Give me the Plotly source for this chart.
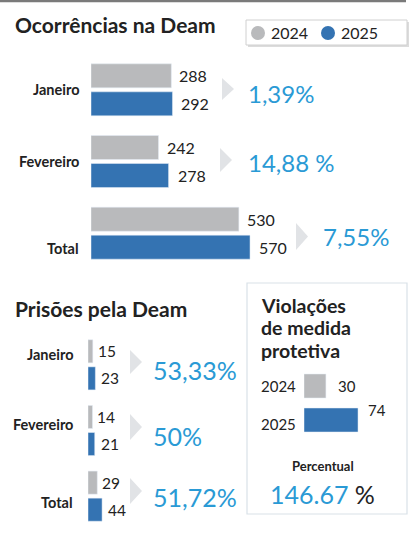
import plotly.graph_objects as go

# ---------------- data ----------------
months = ["Janeiro", "Fevereiro", "Total"]
ocorr_2024 = [288, 242, 530]
ocorr_2025 = [292, 278, 570]
ocorr_pct = ["1,39%", "14,88 %", "7,55%"]

prisoes_2024 = [15, 14, 29]
prisoes_2025 = [23, 21, 44]
prisoes_pct = ["53,33%", "50%", "51,72%"]

viol_years = ["2024", "2025"]
viol_values = [30, 74]
viol_pct = "146.67"

# ---------------- style ----------------
W, H = 420, 533
GRAY = "#b9babc"
BLUE = "#3473b2"
PCT_BLUE = "#2a9ad5"
TXT = "#222222"
CHEV = "#e1e3e6"
FONT = "Lato"


def px(x):
    return x / W


def py(y):
    return 1 - y / H


fig = go.Figure()

# ---- top chart: Ocorrências ----
top_slot = 71.7
top_bar = 24
fig.add_trace(go.Bar(y=months, x=ocorr_2024, orientation="h", marker_color=GRAY,
                     width=top_bar / top_slot, offset=-(top_bar + 2) / top_slot,
                     xaxis="x", yaxis="y", hoverinfo="skip", showlegend=False))
fig.add_trace(go.Bar(y=months, x=ocorr_2025, orientation="h", marker_color=BLUE,
                     width=top_bar / top_slot, offset=2 / top_slot,
                     xaxis="x", yaxis="y", hoverinfo="skip", showlegend=False))

# ---- bottom-left: Prisões ----
bl_slot = 65.5
bl_bar = 23
fig.add_trace(go.Bar(y=months, x=prisoes_2024, orientation="h", marker_color=GRAY,
                     width=bl_bar / bl_slot, offset=-(bl_bar + 2) / bl_slot,
                     xaxis="x2", yaxis="y2", hoverinfo="skip", showlegend=False))
fig.add_trace(go.Bar(y=months, x=prisoes_2025, orientation="h", marker_color=BLUE,
                     width=bl_bar / bl_slot, offset=2 / bl_slot,
                     xaxis="x2", yaxis="y2", hoverinfo="skip", showlegend=False))

# ---- right box: Violações (positions = index of each year) ----
r_slot = 34
r_bar = 24
viol_pos = list(range(len(viol_years)))
fig.add_trace(go.Bar(y=viol_pos, x=viol_values, orientation="h",
                     marker_color=[GRAY, BLUE],
                     width=r_bar / r_slot, offset=-r_bar / 2 / r_slot,
                     xaxis="x3", yaxis="y3", hoverinfo="skip", showlegend=False))

top_scale = 0.279
bl_scale = 0.32
r_scale = 0.73

hidden = dict(showgrid=False, zeroline=False, showticklabels=False, showline=False, ticks="")
fig.update_layout(
    width=W, height=H,
    margin=dict(l=0, r=0, t=0, b=0),
    paper_bgcolor="white", plot_bgcolor="rgba(0,0,0,0)",
    barmode="overlay",
    font=dict(family=FONT, color=TXT),
    xaxis=dict(domain=[px(91), px(410)], range=[0, (410 - 91) / top_scale], fixedrange=True, **hidden),
    yaxis=dict(type="category", domain=[py(269), py(54)], categoryorder="array", categoryarray=months,
               autorange="reversed", fixedrange=True, **hidden),
    xaxis2=dict(domain=[px(88), px(140)], range=[0, (140 - 88) / bl_scale], fixedrange=True, **hidden),
    yaxis2=dict(type="category", domain=[py(529), py(332)], categoryorder="array", categoryarray=months,
                autorange="reversed", fixedrange=True, **hidden),
    xaxis3=dict(anchor="y3", domain=[px(304), px(400)], range=[0, (400 - 304) / r_scale],
                fixedrange=True, **hidden),
    yaxis3=dict(anchor="x3", type="linear", domain=[py(437), py(369)],
                range=[len(viol_years) - 0.5, -0.5], fixedrange=True, **hidden),
)

ann = []
shapes = []

# top line
shapes.append(dict(type="line", xref="paper", yref="paper", x0=0, x1=px(406), y0=py(1), y1=py(1),
                   line=dict(color="#7a7a7a", width=2.5)))

# titles
ann.append(dict(text="<b>Ocorrências na Deam</b>", x=px(13), y=py(25), xref="paper", yref="paper",
                xanchor="left", yanchor="middle", showarrow=False, font=dict(size=21, color=TXT)))
ann.append(dict(text="<b>Prisões pela Deam</b>", x=px(13), y=py(308), xref="paper", yref="paper",
                xanchor="left", yanchor="middle", showarrow=False, font=dict(size=21, color=TXT)))

# legend box
shapes.append(dict(type="rect", xref="paper", yref="paper", x0=px(248), x1=px(409), y0=py(22), y1=py(47),
                   line=dict(width=0), fillcolor="#dcdcdc"))
shapes.append(dict(type="rect", xref="paper", yref="paper", x0=px(246), x1=px(407), y0=py(20), y1=py(45),
                   line=dict(color="#d0d0d0", width=1), fillcolor="white"))
for cx, col, lab in [(258, GRAY, "2024"), (328, BLUE, "2025")]:
    shapes.append(dict(type="circle", xref="paper", yref="paper", x0=px(cx - 7), x1=px(cx + 7),
                       y0=py(33 - 7), y1=py(33 + 7), line=dict(width=0), fillcolor=col))
    ann.append(dict(text=lab, x=px(cx + 11), y=py(33), xref="paper", yref="paper", xanchor="left",
                    yanchor="middle", showarrow=False, font=dict(size=16, color=TXT)))

# top chart labels
top_label_shift = [0, 0, -15]
for m, s in zip(months, top_label_shift):
    ann.append(dict(text="<b>" + m + "</b>", x=px(81), xref="paper", y=m, yref="y", yshift=s,
                    xanchor="right", yanchor="middle", showarrow=False, font=dict(size=14.5, color=TXT)))
for m, a, b in zip(months, ocorr_2024, ocorr_2025):
    ann.append(dict(text=str(a), x=a, y=m, xref="x", yref="y", xshift=6, yshift=(top_bar / 2 + 2),
                    xanchor="left", yanchor="middle", showarrow=False, font=dict(size=16, color=TXT)))
    ann.append(dict(text=str(b), x=b, y=m, xref="x", yref="y", xshift=7, yshift=-(top_bar / 2 + 2),
                    xanchor="left", yanchor="middle", showarrow=False, font=dict(size=16, color=TXT)))

# top chevrons and percentages
top_chev = [(222, 78, 100), (220, 148, 172), (296, 223, 250)]
top_pct_pos = [(246, 93), (246, 163), (321, 236)]
for (cx, y0, y1), (tx, ty), p in zip(top_chev, top_pct_pos, ocorr_pct):
    shapes.append(dict(type="path", xref="paper", yref="paper",
                       path=f"M {px(cx)},{py(y0)} L {px(cx + 12)},{py((y0 + y1) / 2)} L {px(cx)},{py(y1)} Z",
                       line=dict(width=0), fillcolor=CHEV))
    ann.append(dict(text=p, x=px(tx), y=py(ty), xref="paper", yref="paper", xanchor="left",
                    yanchor="middle", showarrow=False, font=dict(size=24, color=PCT_BLUE)))

# bottom-left labels
bl_label_shift = [10, 6, -6]
for m, s in zip(months, bl_label_shift):
    ann.append(dict(text="<b>" + m + "</b>", x=px(75), xref="paper", y=m, yref="y2", yshift=s,
                    xanchor="right", yanchor="middle", showarrow=False, font=dict(size=14.5, color=TXT)))
for m, a, b in zip(months, prisoes_2024, prisoes_2025):
    ann.append(dict(text=str(a), x=a, y=m, xref="x2", yref="y2", xshift=3, yshift=(bl_bar / 2 + 2),
                    xanchor="left", yanchor="middle", showarrow=False, font=dict(size=15.5, color=TXT)))
    ann.append(dict(text=str(b), x=b, y=m, xref="x2", yref="y2", xshift=4, yshift=-(bl_bar / 2 + 2),
                    xanchor="left", yanchor="middle", showarrow=False, font=dict(size=15.5, color=TXT)))

bl_chev = [(130, 350, 374), (130, 414, 440), (130, 478, 504)]
bl_pct_y = [370, 436, 497]
for (cx, y0, y1), ty, p in zip(bl_chev, bl_pct_y, prisoes_pct):
    shapes.append(dict(type="path", xref="paper", yref="paper",
                       path=f"M {px(cx)},{py(y0)} L {px(cx + 12)},{py((y0 + y1) / 2)} L {px(cx)},{py(y1)} Z",
                       line=dict(width=0), fillcolor=CHEV))
    ann.append(dict(text=p, x=px(151), y=py(ty), xref="paper", yref="paper", xanchor="left",
                    yanchor="middle", showarrow=False, font=dict(size=25, color=PCT_BLUE)))

# right box
shapes.append(dict(type="rect", xref="paper", yref="paper", x0=px(247), x1=px(407), y0=py(283), y1=py(514),
                   line=dict(color="#d9e1e8", width=1.2), fillcolor="rgba(0,0,0,0)"))
for line_txt, ly in zip(["Violações", "de medida", "protetiva"], [305, 327.5, 350]):
    ann.append(dict(text="<b>" + line_txt + "</b>", x=px(259), y=py(ly), xref="paper",
                    yref="paper", xanchor="left", yanchor="middle", showarrow=False,
                    font=dict(size=19.5, color=TXT)))
yr_shift = [0, -4]
for pos, yv, s in zip(viol_pos, viol_years, yr_shift):
    ann.append(dict(text=yv, x=px(298), xref="paper", y=pos, yref="y3", yshift=s, xanchor="right",
                    yanchor="middle", showarrow=False, font=dict(size=15, color=TXT)))
val_shift = [(10, 0), (8, 10)]
for pos, v, (xs, ys) in zip(viol_pos, viol_values, val_shift):
    ann.append(dict(text=str(v), x=v, y=pos, xref="x3", yref="y3", xshift=xs, yshift=ys, xanchor="left",
                    yanchor="middle", showarrow=False, font=dict(size=15, color=TXT)))
ann.append(dict(text="<b>Percentual</b>", x=px(323), y=py(466), xref="paper", yref="paper",
                xanchor="center", yanchor="middle", showarrow=False, font=dict(size=13, color=TXT)))
ann.append(dict(text=f"<span style='color:{PCT_BLUE}'>{viol_pct}</span> %", x=px(322), y=py(494),
                xref="paper", yref="paper", xanchor="center", yanchor="middle", showarrow=False,
                font=dict(size=25, color=TXT)))

fig.update_layout(annotations=ann, shapes=shapes)
fig.write_html("out.html")
